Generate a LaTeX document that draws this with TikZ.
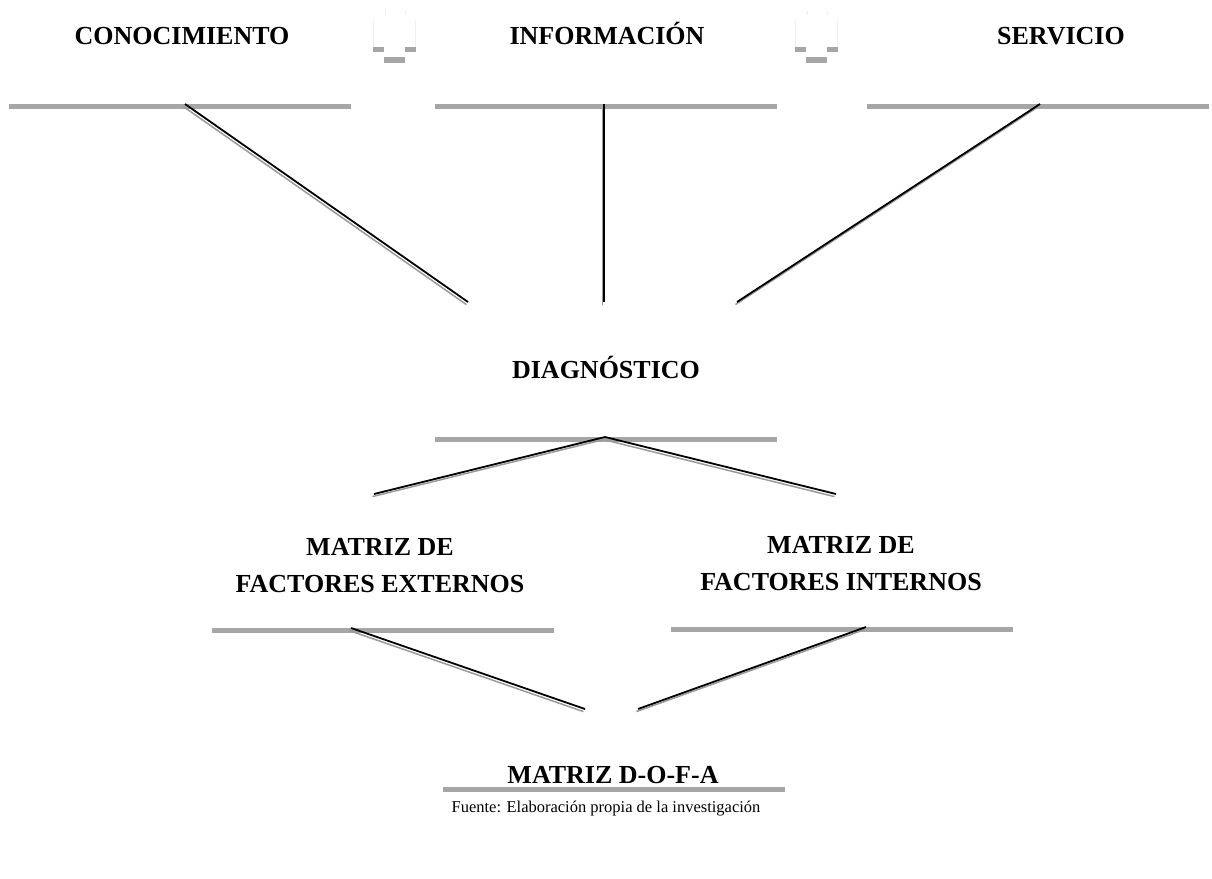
\documentclass[tikz,border=0pt]{standalone}
\usepackage{fontspec}
\setmainfont{Liberation Serif}
\definecolor{barg}{HTML}{A6A6A6}
\definecolor{shad}{HTML}{9A9A9A}
\definecolor{faint}{HTML}{EFEFEF}
\begin{document}
\begin{tikzpicture}[x=1pt,y=-1pt,
  title/.style={font=\fontsize{26}{37}\selectfont\bfseries, anchor=base, inner sep=0pt, align=center},
  bar/.style={fill=barg, draw=none, inner sep=0pt, minimum width=342pt, minimum height=5pt, anchor=north west},
  conn/.style={line width=1.8pt, black},
  connshadow/.style={line width=1.5pt, shad},
  iconbar/.style={fill=barg, draw=none},
  iconline/.style={faint, line width=0.8pt}]
\useasboundingbox (0,0) rectangle (1212,878);
% texts
\node[title] (con) at (182,44) {CONOCIMIENTO};
\node[title] (inf) at (607,44) {INFORMACIÓN};
\node[title] (ser) at (1061,44) {SERVICIO};
\node[title] (dia) at (606,378) {DIAGNÓSTICO};
\node[title] (mex) at (380,592) {MATRIZ DE\\FACTORES EXTERNOS};
\node[title] (min) at (841,590) {MATRIZ DE\\FACTORES INTERNOS};
\node[title] (dofa) at (613,783) {MATRIZ D-O-F-A};
\node[font=\fontsize{16.5}{20}\selectfont, anchor=base, inner sep=0pt] (fuente) at (606,812) {Fuente: Elaboración propia de la investigación};
% bars
\node[bar] (b1) at (9,104) {};
\node[bar] (b2) at (435,104) {};
\node[bar] (b3) at (867,104) {};
\node[bar] (b4) at (435,437) {};
\node[bar] (b5) at (212,628) {};
\node[bar] (b6) at (671,627) {};
\node[bar] (b7) at (443,787) {};
% free ends
\coordinate (e1) at (468,302);
\coordinate (e2) at (604,302);
\coordinate (e3) at (737,302);
\coordinate (e4) at (374,494);
\coordinate (e5) at (836,494);
\coordinate (e6) at (585,709);
\coordinate (e7) at (638,709);
% anchor points on bars
\coordinate (s1) at ([xshift=176pt]b1.north west);
\coordinate (s2) at ([xshift=169pt]b2.north west);
\coordinate (s3) at ([xshift=173pt]b3.north west);
\coordinate (s4) at ([xshift=170pt]b4.north west);
\coordinate (s5) at ([xshift=139pt]b5.north west);
\coordinate (s6) at ([xshift=195pt]b6.north west);
% shadows
\foreach \a/\b in {s1/e1,s2/e2,s3/e3,s4/e4,s4/e5,s5/e6,s6/e7}
  \draw[connshadow] ([shift={(-1.6,2.6)}]\a) -- ([shift={(-1.6,2.6)}]\b);
% connectors
\foreach \a/\b in {s1/e1,s2/e2,s3/e3,s4/e4,s4/e5,s5/e6,s6/e7}
  \draw[conn] (\a) -- (\b);
% small icons
\foreach \dx in {373,795}{
  \begin{scope}[xshift=\dx pt]
  \draw[iconline] (0,20) -- (0,47);
  \draw[iconline] (42,20) -- (42,47);
  \draw[iconline] (12,11) -- (12,15);
  \draw[iconline] (32,11) -- (32,15);
  \fill[iconbar] (0,47) rectangle (11,52);
  \fill[iconbar] (11,57) rectangle (32,63);
  \fill[iconbar] (32,47) rectangle (43,52);
  \end{scope}
}
\end{tikzpicture}
\end{document}
